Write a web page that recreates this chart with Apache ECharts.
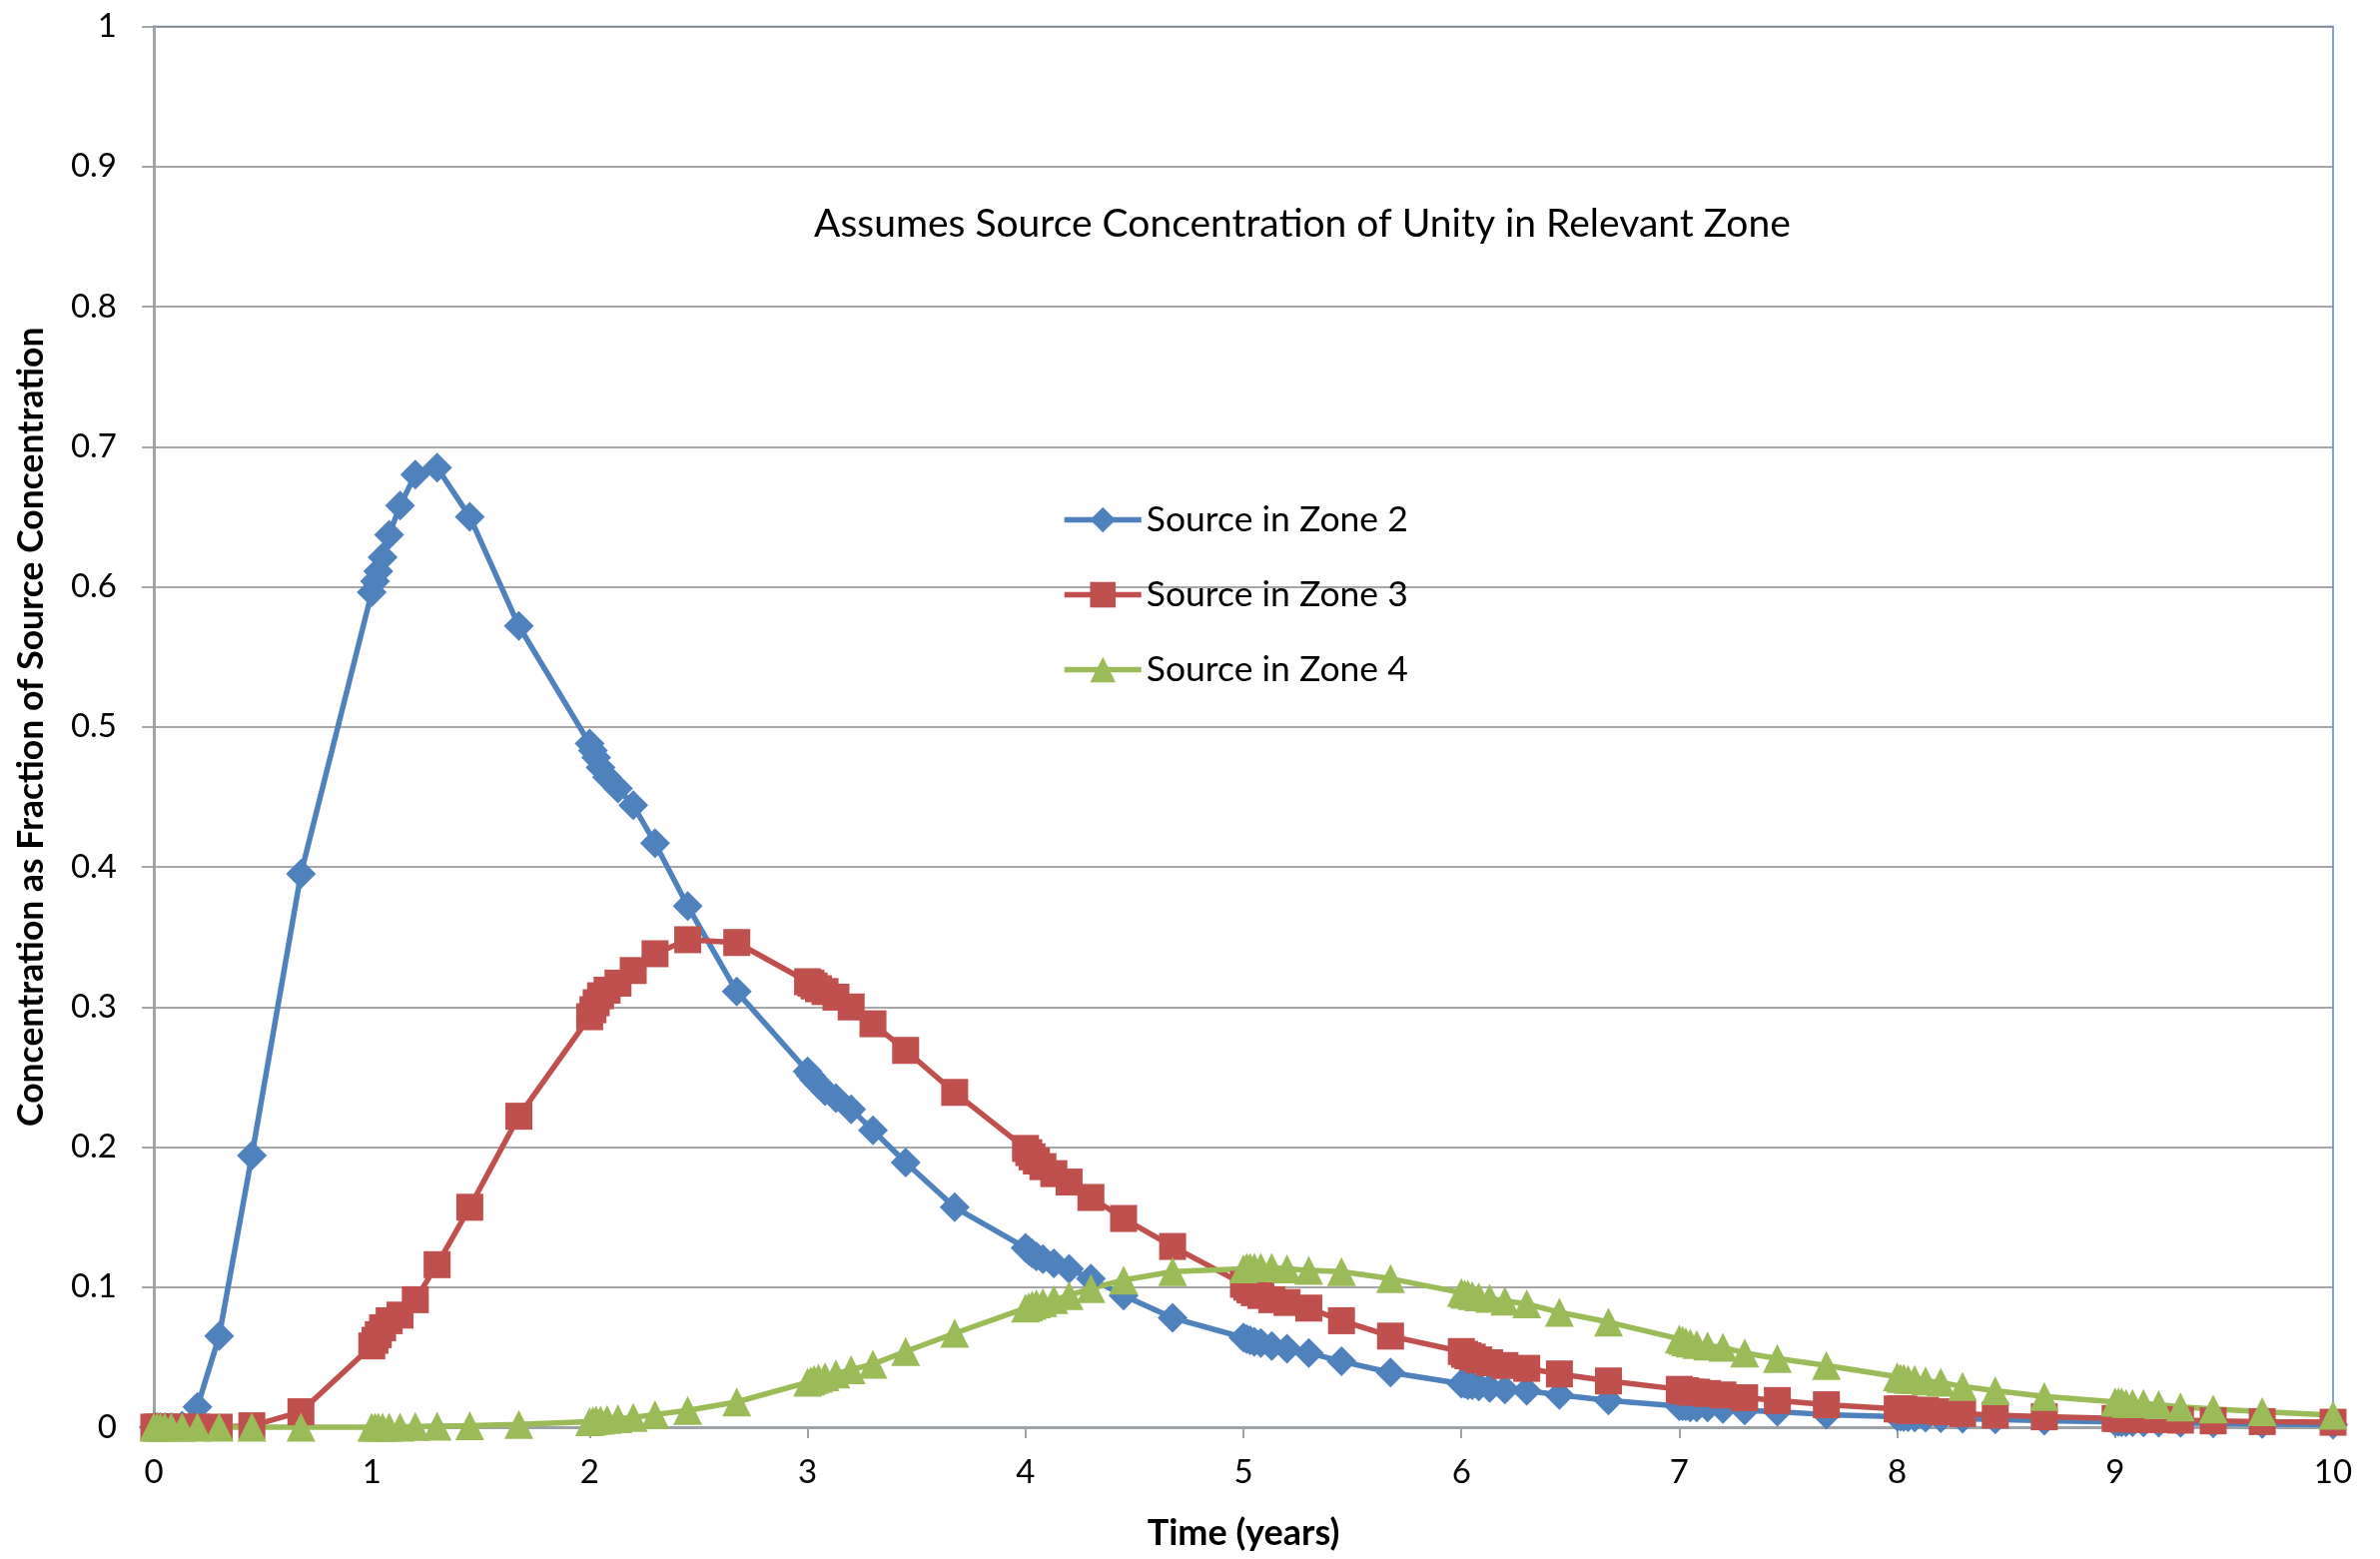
<!DOCTYPE html>
<html>
<head>
<meta charset="utf-8">
<script src="https://cdn.jsdelivr.net/npm/echarts@6/dist/echarts.min.js"></script>
<style>
html,body{margin:0;padding:0;background:#fff;}
#chart{width:2383px;height:1561px;}
</style>
</head>
<body>
<div id="chart"></div>
<script>
// Time (years)
const timeYears = [
  0, 0.015, 0.03, 0.05, 0.08, 0.13, 0.2, 0.3, 0.45, 0.675,
  1, 1.015, 1.03, 1.05, 1.08, 1.13, 1.2, 1.3, 1.45, 1.675,
  2, 2.015, 2.03, 2.05, 2.08, 2.13, 2.2, 2.3, 2.45, 2.675,
  3, 3.015, 3.03, 3.05, 3.08, 3.13, 3.2, 3.3, 3.45, 3.675,
  4, 4.015, 4.03, 4.05, 4.08, 4.13, 4.2, 4.3, 4.45, 4.675,
  5, 5.015, 5.03, 5.05, 5.08, 5.13, 5.2, 5.3, 5.45, 5.675,
  6, 6.015, 6.03, 6.05, 6.08, 6.13, 6.2, 6.3, 6.45, 6.675,
  7, 7.015, 7.03, 7.05, 7.08, 7.13, 7.2, 7.3, 7.45, 7.675,
  8, 8.015, 8.03, 8.05, 8.08, 8.13, 8.2, 8.3, 8.45, 8.675,
  9, 9.015, 9.03, 9.05, 9.08, 9.13, 9.2, 9.3, 9.45, 9.675,
  10
];
// Source in Zone 2
const zone2 = [
  0, 0, 0, 0, 0, 0.001, 0.0145, 0.065, 0.194, 0.395,
  0.596, 0.604, 0.611, 0.621, 0.637, 0.658, 0.680, 0.685, 0.650, 0.572,
  0.488, 0.483, 0.478, 0.471, 0.464, 0.456, 0.444, 0.417, 0.372, 0.311,
  0.254, 0.251, 0.248, 0.245, 0.240, 0.235, 0.227, 0.212, 0.189, 0.157,
  0.128, 0.126, 0.124, 0.122, 0.120, 0.117, 0.113, 0.106, 0.094, 0.078,
  0.064, 0.063, 0.062, 0.061, 0.060, 0.058, 0.056, 0.053, 0.047, 0.039,
  0.031, 0.031, 0.030, 0.030, 0.029, 0.028, 0.027, 0.026, 0.023, 0.019,
  0.015, 0.015, 0.015, 0.014, 0.014, 0.014, 0.013, 0.012, 0.011, 0.009,
  0.0075, 0.0074, 0.0073, 0.0072, 0.0070, 0.0068, 0.0065, 0.0061, 0.0055, 0.0046,
  0.0037, 0.0037, 0.0036, 0.0036, 0.0035, 0.0034, 0.0032, 0.0030, 0.0027, 0.0023,
  0.0018
];
// Source in Zone 3
const zone3 = [
  0, 0, 0, 0, 0, 0, 0, 0, 0.001, 0.011,
  0.058, 0.062, 0.066, 0.071, 0.076, 0.080, 0.091, 0.116, 0.157, 0.222,
  0.293, 0.298, 0.303, 0.308, 0.312, 0.317, 0.326, 0.338, 0.348, 0.346,
  0.318, 0.317, 0.315, 0.313, 0.311, 0.307, 0.300, 0.288, 0.269, 0.239,
  0.199, 0.196, 0.193, 0.190, 0.186, 0.181, 0.175, 0.164, 0.149, 0.129,
  0.102, 0.100, 0.098, 0.096, 0.094, 0.091, 0.089, 0.085, 0.076, 0.065,
  0.054, 0.052, 0.051, 0.050, 0.048, 0.046, 0.044, 0.042, 0.038, 0.033,
  0.027, 0.026, 0.026, 0.025, 0.025, 0.024, 0.023, 0.021, 0.019, 0.016,
  0.013, 0.013, 0.013, 0.012, 0.012, 0.012, 0.011, 0.0097, 0.0086, 0.0074,
  0.0062, 0.0061, 0.0060, 0.0059, 0.0058, 0.0056, 0.0054, 0.0050, 0.0045, 0.0040,
  0.0035
];
// Source in Zone 4
const zone4 = [
  0, 0, 0, 0, 0, 0, 0, 0, 0, 0,
  0, 0, 0, 0, 0, 0, 0.0005, 0.0007, 0.001, 0.002,
  0.004, 0.0045, 0.005, 0.005, 0.0055, 0.006, 0.007, 0.009, 0.012, 0.018,
  0.032, 0.033, 0.034, 0.035, 0.036, 0.038, 0.041, 0.045, 0.054, 0.067,
  0.085, 0.086, 0.087, 0.088, 0.089, 0.091, 0.094, 0.099, 0.105, 0.111,
  0.113, 0.114, 0.114, 0.114, 0.114, 0.114, 0.113, 0.112, 0.111, 0.106,
  0.096, 0.095, 0.095, 0.094, 0.093, 0.092, 0.090, 0.088, 0.082, 0.075,
  0.063, 0.062, 0.061, 0.060, 0.059, 0.058, 0.057, 0.053, 0.049, 0.044,
  0.036, 0.035, 0.035, 0.034, 0.034, 0.033, 0.032, 0.029, 0.026, 0.022,
  0.018, 0.018, 0.018, 0.017, 0.017, 0.017, 0.016, 0.0145, 0.013, 0.011,
  0.0085
];
const seriesNames = ['Source in Zone 2', 'Source in Zone 3', 'Source in Zone 4'];
const seriesColors = ['#4F81BD', '#C0504D', '#9BBB59'];
const seriesSymbols = ['diamond', 'rect', 'triangle'];
const seriesSymbolSizes = [30, 27, 29];
const annotationText = 'Assumes Source Concentration of Unity in Relevant Zone';
const xAxisTitle = 'Time (years)';
const yAxisTitle = 'Concentration as Fraction of Source Concentration';

const FONT = 'Lato, "Open Sans", sans-serif';
const allValues = [zone2, zone3, zone4];

const chart = echarts.init(document.getElementById('chart'), null, {renderer: 'canvas'});
chart.setOption({
  animation: false,
  backgroundColor: '#ffffff',
  grid: {
    left: 154, right: 47, top: 26.5, bottom: 132,
    show: true, borderColor: '#5B84BF', borderWidth: 1.5,
    backgroundColor: 'transparent', containLabel: false
  },
  xAxis: {
    type: 'value', min: 0, max: 10, interval: 1,
    name: xAxisTitle, nameLocation: 'middle', nameGap: 88,
    nameTextStyle: {fontFamily: FONT, fontSize: 36, fontWeight: 'bold', color: '#000'},
    axisLine: {show: true, onZero: false, lineStyle: {color: '#9EA3A8', width: 3}},
    axisTick: {show: true, inside: false, length: 11, lineStyle: {color: '#9EA3A8', width: 2}},
    axisLabel: {fontFamily: FONT, fontSize: 33, color: '#000', margin: 29},
    splitLine: {show: false}
  },
  yAxis: {
    type: 'value', min: 0, max: 1, interval: 0.1,
    name: yAxisTitle, nameLocation: 'middle', nameGap: 104, nameRotate: 90,
    nameTextStyle: {fontFamily: FONT, fontSize: 35.5, fontWeight: 'bold', color: '#000'},
    axisLine: {show: true, lineStyle: {color: '#9EA3A8', width: 3}},
    axisTick: {show: true, inside: false, length: 12, lineStyle: {color: '#8A8A8A', width: 1.5}},
    axisLabel: {fontFamily: FONT, fontSize: 33, color: '#000', margin: 37},
    splitLine: {show: true, lineStyle: {color: '#8A8A8A', width: 1.5}}
  },
  legend: {
    orient: 'vertical', left: 1063, top: 499, padding: 0,
    itemWidth: 77, itemHeight: 32, itemGap: 32,
    data: seriesNames,
    textStyle: {fontFamily: FONT, fontSize: 35.5, color: '#000', lineHeight: 43},
    lineStyle: {width: 5.5},
    selectedMode: false
  },
  graphic: [{
    type: 'text', x: 815, y: 224,
    style: {text: annotationText, fontFamily: FONT, fontSize: 39, fill: '#000', verticalAlign: 'middle', align: 'left'}
  }],
  series: seriesNames.map((name, k) => ({
    name: name,
    type: 'line',
    data: timeYears.map((t, i) => [t, allValues[k][i]]),
    symbol: seriesSymbols[k],
    symbolSize: seriesSymbolSizes[k],
    showSymbol: true,
    showAllSymbol: true,
    clip: false,
    color: seriesColors[k],
    lineStyle: {color: seriesColors[k], width: 5.5},
    itemStyle: {color: seriesColors[k], borderWidth: 0, opacity: 1},
    emphasis: {disabled: true}
  }))
});
</script>
</body>
</html>
